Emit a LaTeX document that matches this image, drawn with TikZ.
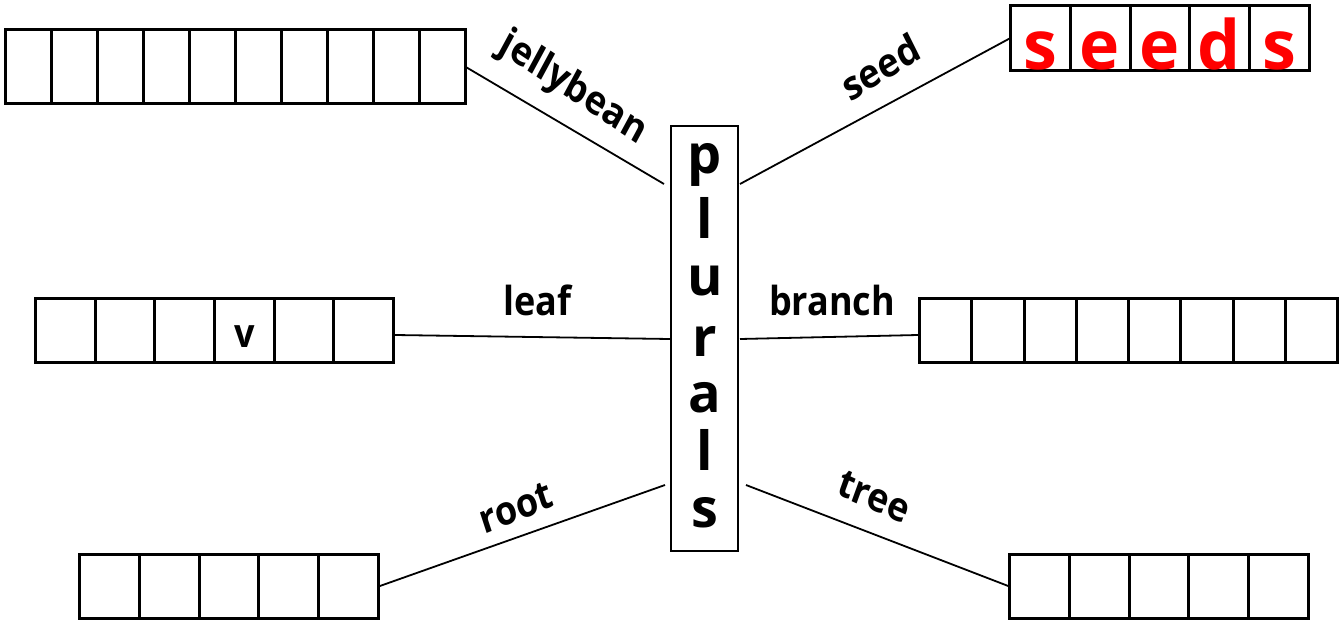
\documentclass[tikz,border=0pt]{standalone}
\usepackage{fontspec}
\setmainfont{Open Sans}
\usetikzlibrary{calc}
\begin{document}
\begin{tikzpicture}[x=1pt,y=-1pt,
  row/.style={draw, line width=3pt, rectangle, inner sep=0pt, outer sep=0pt},
  divider/.style={line width=3pt},
  link/.style={line width=1.8pt},
  lbl/.style={font=\fontsize{40}{40}\selectfont\bfseries, inner sep=0pt, xscale=0.9},
  pl/.style={font=\fontsize{54}{54}\selectfont\bfseries, inner sep=0pt, anchor=base},
  sd/.style={font=\fontsize{68}{68}\selectfont\bfseries, text=red, inner sep=0pt, anchor=base}]
\useasboundingbox (0,0) rectangle (1344,623);
\fill[white] (0,0) rectangle (1344,623);
% rows of cells
\node[row, minimum width=459.5pt, minimum height=74pt] (jb) at (235.25,66.5) {};
\node[row, minimum width=299pt, minimum height=65pt] (sdb) at (1160,38) {};
\node[row, minimum width=358pt, minimum height=64pt] (lf) at (214.5,330.5) {};
\node[row, minimum width=418pt, minimum height=64pt] (br) at (1128.5,330.5) {};
\node[row, minimum width=299pt, minimum height=64pt] (rt) at (229,586.5) {};
\node[row, minimum width=299pt, minimum height=64pt] (tr) at (1159,586.5) {};
\foreach \n/\k in {jb/10, sdb/5, lf/6, br/8, rt/5, tr/5}{
  \pgfmathtruncatemacro{\km}{\k-1}
  \foreach \i in {1,...,\km}{
    \draw[divider] ($(\n.south west)!\i/\k!(\n.south east)$) -- ($(\n.north west)!\i/\k!(\n.north east)$);
  }
}
% central box
\node[draw, line width=2pt, rectangle, inner sep=0pt, outer sep=0pt, minimum width=67pt, minimum height=425pt] (plb) at (704.5,338.5) {};
\node[pl] (p1) at (705,174) {p};
\node[pl] (p2) at (705,238) {l};
\node[pl] (p3) at (705,295) {u};
\node[pl] (p4) at (705,356) {r};
\node[pl] (p5) at (705,412) {a};
\node[pl] (p6) at (705,470) {l};
\node[pl] (p7) at (705,527) {s};
% connector ends near the central box
\coordinate (cjb) at (664,184);
\coordinate (csd) at (740,184);
\coordinate (clf) at (670,339);
\coordinate (cbr) at (740,339);
\coordinate (crt) at (665,485);
\coordinate (ctr) at (746,485);
\coordinate (elf) at (395,335);
\coordinate (ebr) at (918,335);
\draw[link] (jb.east) -- (cjb);
\draw[link] (sdb.west) -- (csd);
\draw[link] (elf) -- (clf);
\draw[link] (ebr) -- (cbr);
\draw[link] (rt.east) -- (crt);
\draw[link] (tr.west) -- (ctr);
% labels
\node[lbl, rotate=-31] (ljb) at (573,89) {jellybean};
\node[lbl, rotate=29] (lsd) at (880,67) {seed};
\node[lbl, anchor=base] (llf) at (537,315) {leaf};
\node[lbl, anchor=base] (lbr) at (832,315) {branch};
\node[lbl, rotate=20] (lrt) at (516,508) {root};
\node[lbl, rotate=-22] (ltr) at (874,497) {tree};
% letters in cells
\node[lbl, anchor=base] (v) at (244.5,347) {v};
\node[sd] (s1) at (1040,70) {s};
\node[sd] (s2) at (1100,70) {e};
\node[sd] (s3) at (1160,70) {e};
\node[sd] (s4) at (1219,70) {d};
\node[sd] (s5) at (1279,70) {s};
\end{tikzpicture}
\end{document}
